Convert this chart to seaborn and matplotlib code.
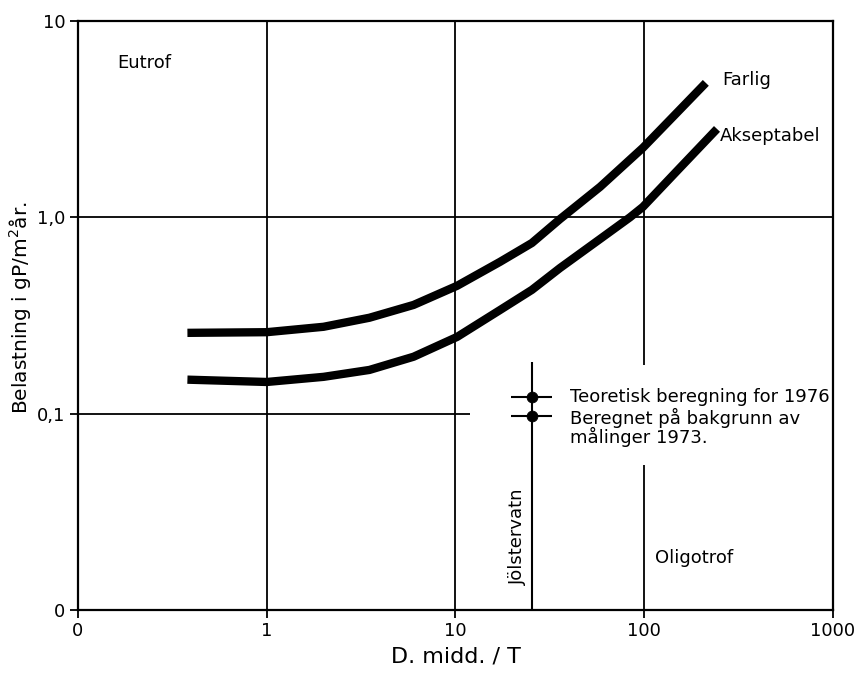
import numpy as np
import pandas as pd
import seaborn as sns
from matplotlib import pyplot as plt

# values (log-log; the "0" ticks stand one decade below 1 and 0,1)
farlig_x = [0.38, 1.0, 2.0, 3.5, 6.0, 10.2, 17.2, 25.4, 35.8, 58.4, 98.4, 145.5, 212]
farlig_y = [0.258, 0.26, 0.277, 0.308, 0.358, 0.448, 0.593, 0.74, 0.98, 1.43, 2.26, 3.33, 4.84]
akseptabel_x = [0.38, 1.0, 2.0, 3.5, 6.0, 10.2, 17.2, 25.4, 35.8, 58.4, 84, 98.4, 145.5, 243]
akseptabel_y = [0.149, 0.145, 0.154, 0.167, 0.195, 0.246, 0.337, 0.427, 0.552, 0.776, 1.0, 1.13, 1.68, 2.82]

jolster_x = 25.4
jolster_y = [0.1216, 0.0973]

x_ticks = [0.1, 1, 10, 100, 1000]
x_labels = ["0", "1", "10", "100", "1000"]
y_ticks = [0.01, 0.1, 1, 10]
y_labels = ["0", "0,1", "1,0", "10"]

curves = pd.concat([
    pd.DataFrame({"x": farlig_x, "y": farlig_y, "kurve": "Farlig"}),
    pd.DataFrame({"x": akseptabel_x, "y": akseptabel_y, "kurve": "Akseptabel"}),
])

sns.set_style("white")
plt.rcParams['font.family'] = ['DejaVu Sans']
plt.rcParams['text.color'] = 'black'
plt.rcParams['axes.labelcolor'] = 'black'
plt.rcParams['xtick.color'] = 'black'
plt.rcParams['ytick.color'] = 'black'

fig = plt.figure(figsize=(8.56, 6.75), dpi=100)
ax = fig.add_axes([0.0911, 0.0963, 0.8820, 0.8726])
ax.set_xscale("log")
ax.set_yscale("log")
ax.set_xlim(0.1, 1000)
ax.set_ylim(0.01, 10)

# hand drawn guide lines
ax.vlines([1, 10], 0.01, 10, color="black", lw=1.3)
ax.vlines(100, 0.01, 0.0548, color="black", lw=1.3)
ax.vlines(100, 0.177, 10, color="black", lw=1.3)
ax.hlines(1, 0.1, 1000, color="black", lw=1.3)
ax.hlines(0.1, 0.1, 11.9, color="black", lw=1.3)

sns.lineplot(data=curves, x="x", y="y", units="kurve", estimator=None,
             color="black", lw=6, solid_capstyle="butt",
             solid_joinstyle="round", ax=ax, legend=False)

# Jolstervatn
ax.vlines(jolster_x, 0.01, 0.183, color="black", lw=1.5)
ax.hlines(jolster_y, jolster_x / 1.29, jolster_x * 1.275, color="black", lw=1.5)
sns.scatterplot(x=[jolster_x] * 2, y=jolster_y, color="black", s=60,
                edgecolor="black", ax=ax, legend=False, zorder=5)

fs = 13
ax.text(0.161, 6.12, "Eutrof", fontsize=fs, va="center", ha="left")
ax.text(258, 5.0, "Farlig", fontsize=fs, va="center", ha="left")
ax.text(252, 2.6, "Akseptabel", fontsize=fs, va="center", ha="left")
ax.text(114, 0.0184, "Oligotrof", fontsize=fs, va="center", ha="left")
ax.text(21.4, 0.0236, "Jölstervatn", fontsize=fs, va="center", ha="center",
        rotation=90)
ax.text(40.5, jolster_y[0], "Teoretisk beregning for 1976", fontsize=fs,
        va="center", ha="left")
ax.text(40.5, 0.107, "Beregnet på bakgrunn av\nmålinger 1973.", fontsize=fs,
        va="top", ha="left", linespacing=0.95)

ax.set_xticks(x_ticks)
ax.set_xticklabels(x_labels)
ax.set_yticks(y_ticks)
ax.set_yticklabels(y_labels)
ax.minorticks_off()
ax.tick_params(axis="both", direction="out", length=6, width=1.3,
               labelsize=13, pad=3, left=True, bottom=True)

for s in ax.spines.values():
    s.set_color("black")
    s.set_linewidth(1.6)

ax.set_xlabel("D. midd. / T", fontsize=16, labelpad=4)
ax.set_ylabel(r"Belastning i gP/m$^2$år.", fontsize=14.5)
ax.yaxis.set_label_coords(-0.06, 0.514)

fig.savefig("out.png", dpi=100)
